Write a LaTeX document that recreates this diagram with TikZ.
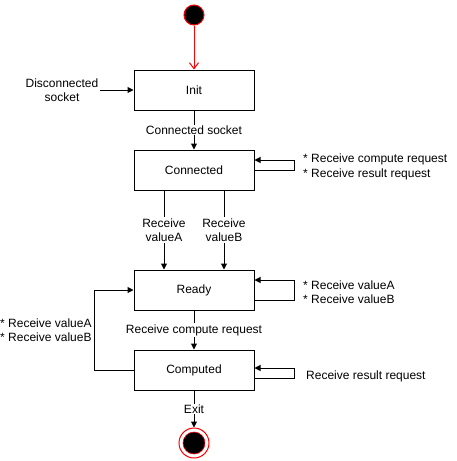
\documentclass[tikz,border=0pt]{standalone}
\usepackage{fontspec}
\setmainfont{Liberation Sans}
\usetikzlibrary{arrows.meta,positioning}

\begin{document}
\begin{tikzpicture}[
    x=1pt, y=-1pt,
    % global styles
    every node/.style={font=\fontsize{12}{14.5}\selectfont},
    state/.style={draw, line width=1pt, rectangle, minimum width=120pt, minimum height=40pt},
    flow/.style={line width=1pt, -{Triangle[length=6pt, width=6pt]}},
    start flow/.style={line width=1pt, draw=red, -{Straight Barb[length=6pt, width=9pt]}},
    on line/.style={fill=white, inner sep=1pt, align=center},
    note/.style={align=left, anchor=west, inner sep=0pt}
]
    \useasboundingbox (0,0) rectangle (457,461);

    % --- 1. initial and final pseudo states ---
    \node[circle, fill=black, draw=red, line width=1pt, minimum size=20pt, inner sep=0pt] (start) at (194,15) {};
    \node[circle, draw=red, line width=1pt, minimum size=30pt, inner sep=0pt] (final) at (194,443) {};
    \node[circle, fill=black, draw=red, line width=0.6pt, minimum size=22pt, inner sep=0pt] (finaldot) at (final) {};

    % --- 2. the states ---
    \node[state] (init) at (194,90) {Init};
    \node[state] (connected) at (194,170) {Connected};
    \node[state] (ready) at (194,290) {Ready};
    \node[state] (computed) at (194,370) {Computed};

    % external input
    \node[align=center, inner sep=1pt] (disc) at (62,90) {Disconnected\\socket};

    % --- 3. transitions ---
    \draw[start flow] (start) -- (init.north);
    \draw[flow] (disc.east) -- (init.west);
    \draw[flow] (init.south) -- node[on line] (lconn) {Connected socket} (connected.north);

    \draw[flow] ([xshift=-30pt]connected.south) -- node[on line] (lvala) {Receive\\valueA} ([xshift=-30pt]ready.north);
    \draw[flow] ([xshift=30pt]connected.south) -- node[on line] (lvalb) {Receive\\valueB} ([xshift=30pt]ready.north);

    \draw[flow] (ready.south) -- node[on line] (lcomp) {Receive compute request} (computed.north);
    \draw[flow] (computed.south) -- node[on line] (lexit) {Exit} (final.north);

    % back from computed to ready
    \draw[flow] (computed.west) -- ++(-39,0) |- (ready.west);
    \node[note] (lback) at (0,330) {* Receive valueA\\* Receive valueB};

    % --- 4. self loops ---
    \draw[flow] (connected.east) -- ++(40,0) -- ++(0,-10) -- ([yshift=10pt]connected.east);
    \node[note] (lconnloop) at (303,167) {* Receive compute request\\* Receive result request};

    \draw[flow] ([yshift=-10pt]ready.east) -- ++(40,0) -- ++(0,-20) -- ([yshift=10pt]ready.east);
    \node[note] (lreadyloop) at (303,292) {* Receive valueA\\* Receive valueB};

    \draw[flow] ([yshift=-8pt]computed.east) -- ++(40,0) -- ++(0,-10) -- ([yshift=2pt]computed.east);
    \node[note] (lcomploop) at (306,376) {Receive result request};

\end{tikzpicture}
\end{document}
